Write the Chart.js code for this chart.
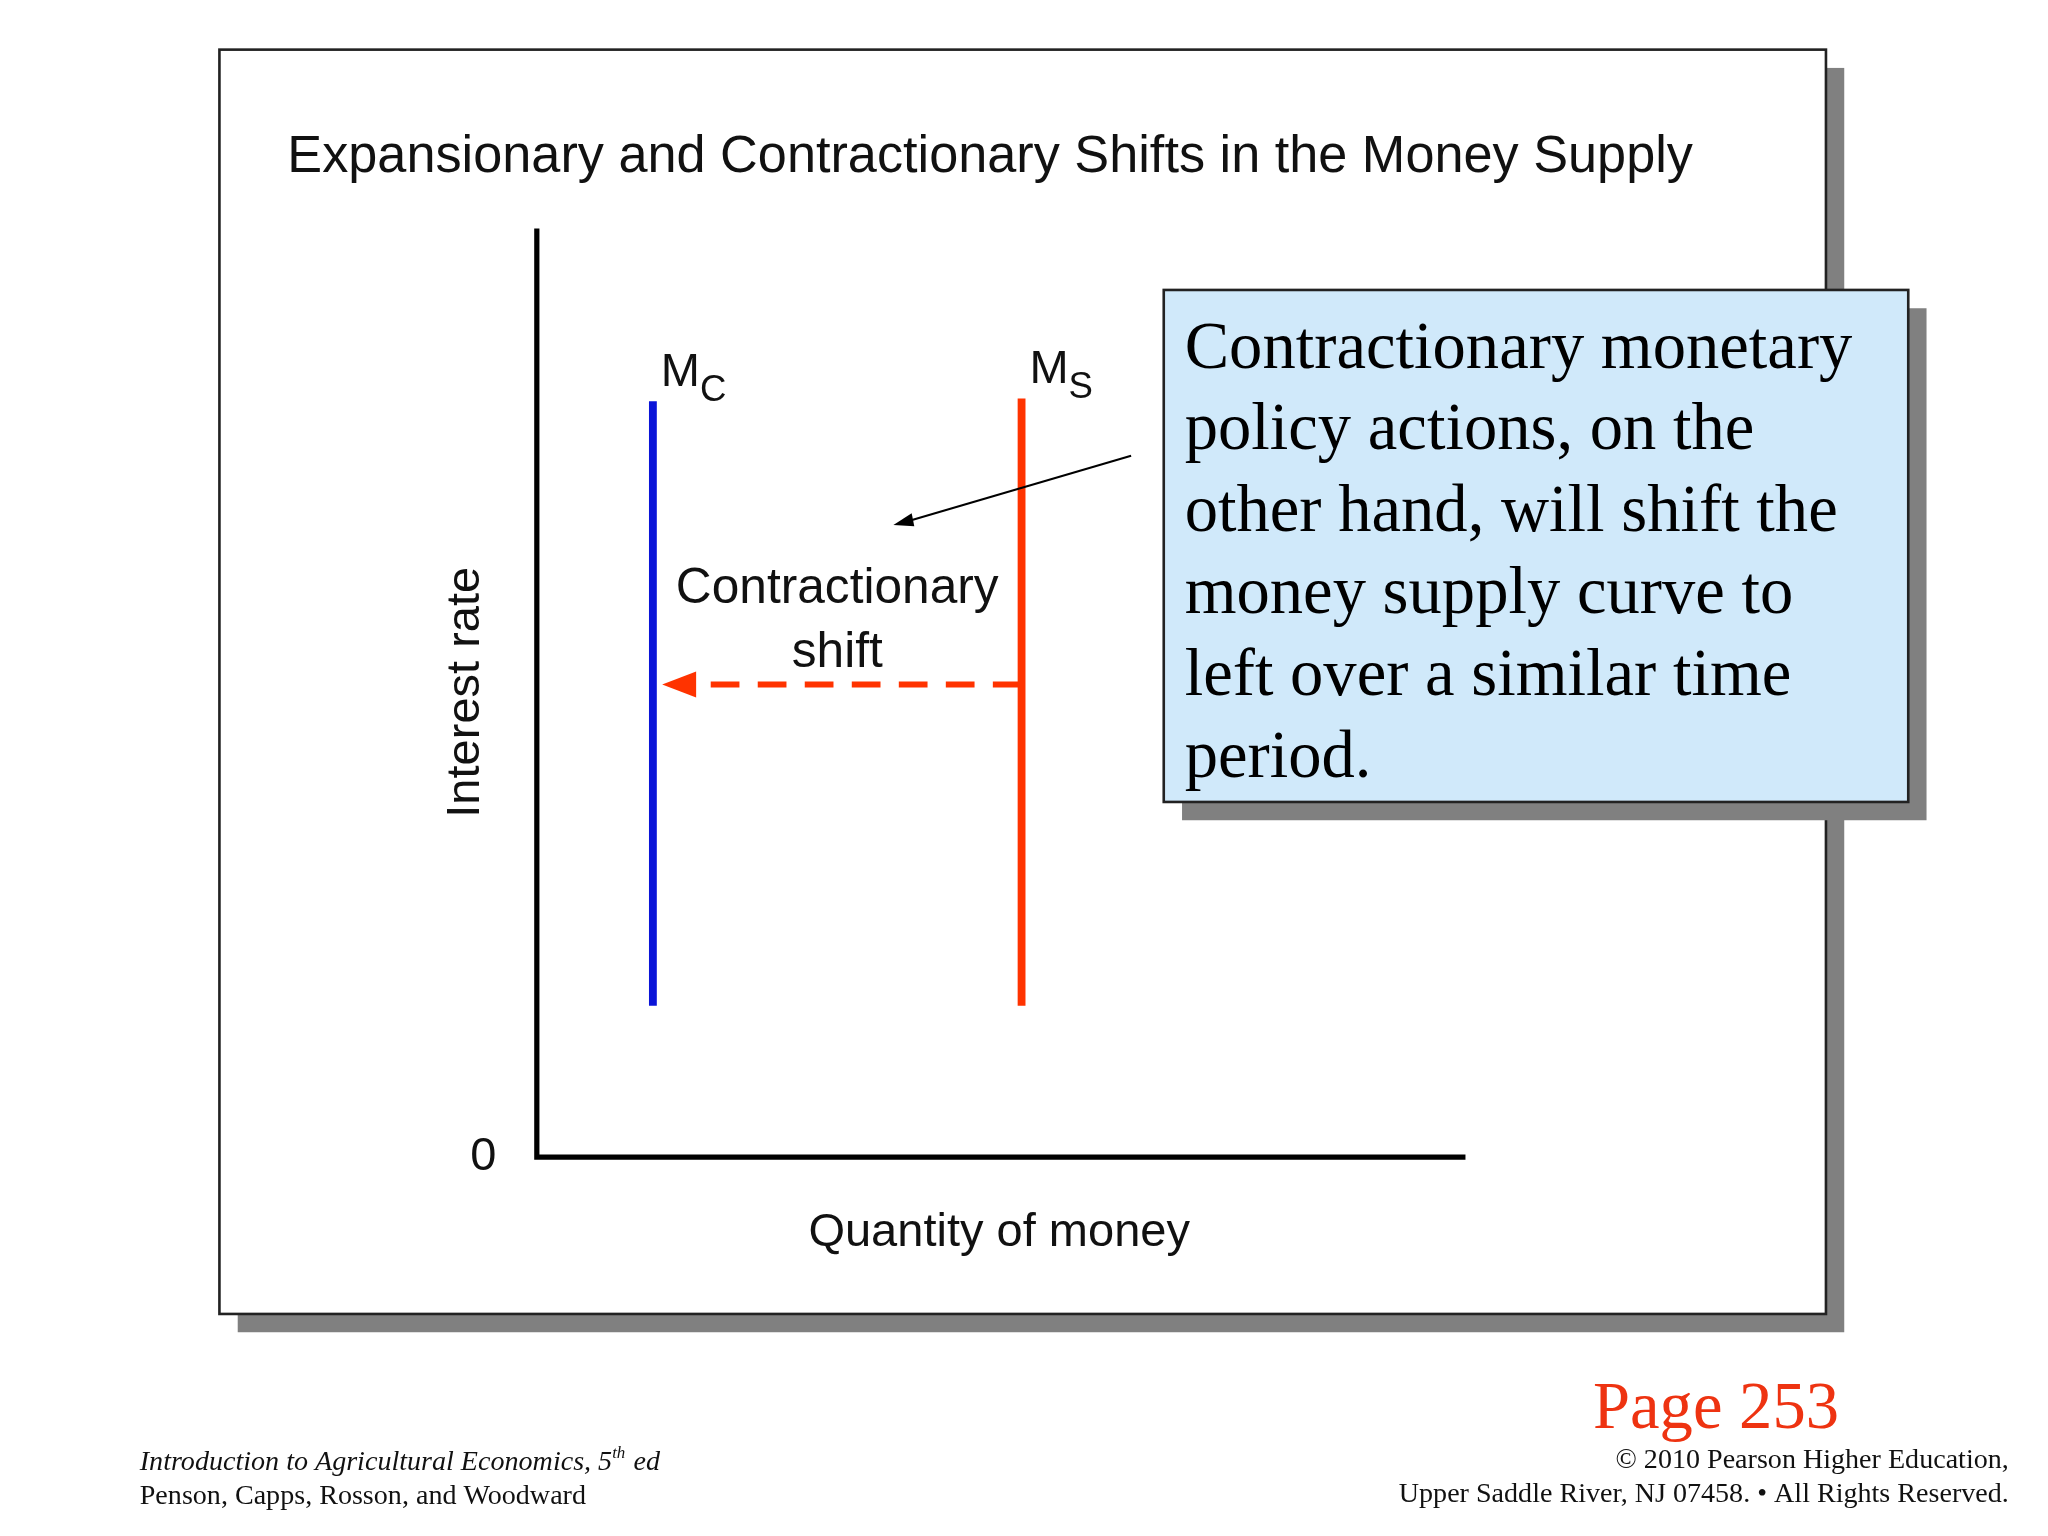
<!DOCTYPE html>
<html>
<head>
<meta charset="utf-8">
<script src="https://cdn.jsdelivr.net/npm/chart.js@4"></script>
<style>
  html, body { margin: 0; padding: 0; background: #fff; }
  canvas { display: block; }
</style>
</head>
<body>
<canvas id="myChart" width="2048" height="1536"></canvas>
<script>
// values in axis units (0..100 both ways)
var curveNames = ['M', 'M'];
var curveSubs = ['C', 'S'];
var curveX = [12.5, 52.2];
var curveBottom = [16.3, 16.3];
var curveTop = [81.4, 81.7];
var curveColors = ['#0a14d8', '#ff3300'];
var shiftY = 50.9;
var shiftFrom = 52.2;
var shiftTo = 13.5;

var S = 2048 / 1568; // reference drawn at 1568 wide

var calloutLines = [
  'Contractionary monetary',
  'policy actions, on the',
  'other hand, will shift the',
  'money supply curve to',
  'left over a similar time',
  'period.'
];

var datasets = [];
for (var i = 0; i < curveX.length; i++) {
  datasets.push({
    data: [{x: curveX[i], y: curveBottom[i]}, {x: curveX[i], y: curveTop[i]}],
    borderColor: curveColors[i],
    borderWidth: 6 * S,
    pointRadius: 0,
    showLine: true
  });
}
datasets.push({
  data: [{x: shiftFrom, y: shiftY}, {x: shiftTo + 1.5, y: shiftY}],
  borderColor: '#ff3300',
  borderWidth: 4.5 * S,
  borderDash: [22 * S, 14 * S],
  pointRadius: 0,
  showLine: true
});

var slidePlugin = {
  id: 'slide',
  beforeDraw: function (chart) {
    var c = chart.ctx;
    c.save();
    c.fillStyle = '#fff';
    c.fillRect(0, 0, chart.width, chart.height);
    c.scale(S, S);
    // frame with shadow
    c.fillStyle = '#808080';
    c.fillRect(182, 52, 1230, 968);
    c.fillStyle = '#fff';
    c.fillRect(168, 38, 1230, 968);
    c.strokeStyle = '#222';
    c.lineWidth = 2;
    c.strokeRect(168, 38, 1230, 968);
    // title
    c.fillStyle = '#111';
    c.font = '40px "Liberation Sans", Arial, sans-serif';
    c.textAlign = 'left';
    c.textBaseline = 'middle';
    c.fillText('Expansionary and Contractionary Shifts in the Money Supply', 220, 121);
    // axes
    c.strokeStyle = '#000';
    c.lineWidth = 4;
    c.beginPath();
    c.moveTo(411, 175); c.lineTo(411, 886); c.lineTo(1122, 886);
    c.stroke();
    c.font = '36px "Liberation Sans", Arial, sans-serif';
    c.textAlign = 'center';
    c.fillText('0', 370, 886);
    c.fillText('Quantity of money', 765, 944);
    c.save();
    c.translate(357, 530);
    c.rotate(-Math.PI / 2);
    c.fillText('Interest rate', 0, 0);
    c.restore();
    c.restore();
  },
  afterDraw: function (chart) {
    var c = chart.ctx;
    var xs = chart.scales.x, ys = chart.scales.y;
    c.save();
    // dashed arrow head
    var hx = xs.getPixelForValue(shiftTo), hy = ys.getPixelForValue(shiftY);
    c.fillStyle = '#ff3300';
    c.beginPath();
    c.moveTo(hx, hy);
    c.lineTo(hx + 26 * S, hy - 10 * S);
    c.lineTo(hx + 26 * S, hy + 10 * S);
    c.closePath();
    c.fill();
    // curve labels
    c.fillStyle = '#111';
    c.textBaseline = 'middle';
    c.textAlign = 'left';
    for (var i = 0; i < curveX.length; i++) {
      var px = xs.getPixelForValue(curveX[i]) + 6 * S;
      var py = ys.getPixelForValue(curveTop[i]) - 22 * S;
      c.font = (36 * S) + 'px "Liberation Sans", Arial, sans-serif';
      c.fillText(curveNames[i], px, py);
      var w = c.measureText(curveNames[i]).width;
      c.font = (28 * S) + 'px "Liberation Sans", Arial, sans-serif';
      c.fillText(curveSubs[i], px + w, py + 14 * S);
    }
    c.scale(S, S);
    c.font = '38px "Liberation Sans", Arial, sans-serif';
    c.textAlign = 'center';
    c.fillText('Contractionary', 641, 451);
    c.fillText('shift', 641, 500);
    // callout
    c.fillStyle = '#808080';
    c.fillRect(905, 236, 570, 392);
    c.fillStyle = '#d0e9fa';
    c.fillRect(891, 222, 570, 392);
    c.strokeStyle = '#222';
    c.lineWidth = 2;
    c.strokeRect(891, 222, 570, 392);
    c.fillStyle = '#000';
    c.textAlign = 'left';
    c.font = '51px "Liberation Serif", "Times New Roman", serif';
    for (var j = 0; j < calloutLines.length; j++) {
      c.fillText(calloutLines[j], 907, 268 + j * 62.7);
    }
    // pointer arrow
    c.strokeStyle = '#000';
    c.lineWidth = 1.6;
    c.beginPath();
    c.moveTo(866, 349); c.lineTo(695, 399);
    c.stroke();
    c.beginPath();
    c.moveTo(684, 402); c.lineTo(698, 393); c.lineTo(700, 403);
    c.closePath();
    c.fill();
    // footer
    c.fillStyle = '#ee3311';
    c.textAlign = 'right';
    c.font = '51px "Liberation Serif", "Times New Roman", serif';
    c.fillText('Page 253', 1408, 1080);
    c.fillStyle = '#111';
    c.font = '21.5px "Liberation Serif", "Times New Roman", serif';
    c.fillText('\u00a9 2010 Pearson Higher Education,', 1538, 1118);
    c.fillText('Upper Saddle River, NJ 07458. \u2022 All Rights Reserved.', 1538, 1144);
    c.textAlign = 'left';
    c.font = 'italic 21.5px "Liberation Serif", "Times New Roman", serif';
    c.fillText('Introduction to Agricultural Economics, 5', 107, 1120);
    var w2 = c.measureText('Introduction to Agricultural Economics, 5').width;
    c.font = 'italic 13px "Liberation Serif", serif';
    c.fillText('th', 107 + w2, 1113);
    c.font = 'italic 21.5px "Liberation Serif", "Times New Roman", serif';
    c.fillText(' ed', 107 + w2 + 11, 1120);
    c.font = '21.5px "Liberation Serif", "Times New Roman", serif';
    c.fillText('Penson, Capps, Rosson, and Woodward', 107, 1146);
    c.restore();
  }
};

var ctx = document.getElementById('myChart');
var myChart = new Chart(ctx, {
  type: 'scatter',
  data: { datasets: datasets },
  options: {
    responsive: false,
    animation: false,
    devicePixelRatio: 1,
    layout: {
      padding: { left: 411 * S, top: 175 * S, right: 2048 - 1122 * S, bottom: 1536 - 886 * S }
    },
    plugins: { legend: { display: false }, tooltip: { enabled: false } },
    scales: {
      x: { type: 'linear', min: 0, max: 100, display: false },
      y: { type: 'linear', min: 0, max: 100, display: false }
    }
  },
  plugins: [slidePlugin]
});
</script>
</body>
</html>
